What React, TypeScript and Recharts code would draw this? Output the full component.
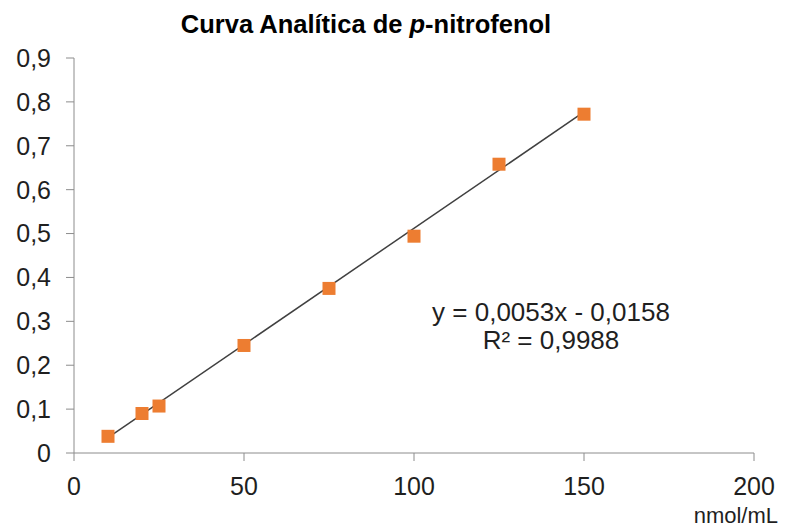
import { ScatterChart, Scatter, XAxis, YAxis } from "recharts";

// concentração (nmol/mL) e absorbância lida
const concentrations = [10, 20, 25, 50, 75, 100, 125, 150];
const absorbances = [0.038, 0.09, 0.107, 0.245, 0.375, 0.494, 0.658, 0.772];

// extremos da linha de tendência
const trendX = [10, 150];
const trendY = [0.035, 0.777];

const xTicks = [0, 50, 100, 150, 200];
const yTicks = [0, 0.1, 0.2, 0.3, 0.4, 0.5, 0.6, 0.7, 0.8, 0.9];

const equationText = "y = 0,0053x - 0,0158";
const r2Text = "R² = 0,9988";

const points = concentrations.map((x, i) => ({ x, y: absorbances[i] }));
const trend = trendX.map((x, i) => ({ x, y: trendY[i] }));

const FONT = "'Liberation Sans', Arial, sans-serif";
const fmt = (v: number) => String(v).replace(".", ",");

function SquareDot({ cx, cy }: { cx?: number; cy?: number }) {
  if (cx == null || cy == null) return <g />;
  return <rect x={cx - 6.5} y={cy - 6.5} width={13} height={13} fill="#ED7D31" />;
}

export default function App() {
  return (
    <div style={{ position: "relative", width: 791, height: 529, background: "#fff", fontFamily: FONT }}>
      <style>{"body{margin:0}"}</style>
      <ScatterChart width={791} height={529} margin={{ top: 58, right: 37, bottom: 36, left: 0 }}>
        <XAxis
          type="number"
          dataKey="x"
          domain={[0, 200]}
          ticks={xTicks}
          tickSize={8}
          tickMargin={16}
          height={40}
          stroke="#8c8c8c"
          tick={{ fill: "#1f1f1f", fontSize: 25, fontFamily: FONT }}
          allowDataOverflow
        />
        <YAxis
          type="number"
          dataKey="y"
          domain={[0, 0.9]}
          ticks={yTicks}
          tickFormatter={fmt}
          tickSize={8}
          tickMargin={15}
          width={74}
          stroke="#8c8c8c"
          tick={{ fill: "#1f1f1f", fontSize: 25, fontFamily: FONT }}
          allowDataOverflow
        />
        <Scatter
          data={trend}
          line={{ stroke: "#404040", strokeWidth: 1.5 }}
          shape={() => <g />}
          isAnimationActive={false}
        />
        <Scatter data={points} shape={SquareDot} isAnimationActive={false} />
      </ScatterChart>
      <svg width={791} height={529} style={{ position: "absolute", left: 0, top: 0, pointerEvents: "none" }}>
        <text x={366} y={33} textAnchor="middle" fontSize={25.5} fontWeight="bold" fill="#000" fontFamily={FONT}>
          Curva Analítica de <tspan fontStyle="italic">p</tspan>-nitrofenol
        </text>
        <text x={551} y={321} textAnchor="middle" fontSize={26} fill="#1f1f1f" fontFamily={FONT}>
          {equationText}
        </text>
        <text x={551} y={349} textAnchor="middle" fontSize={26} fill="#1f1f1f" fontFamily={FONT}>
          {r2Text}
        </text>
        <text x={778} y={523} textAnchor="end" fontSize={22} fill="#1f1f1f" fontFamily={FONT}>
          nmol/mL
        </text>
      </svg>
    </div>
  );
}
